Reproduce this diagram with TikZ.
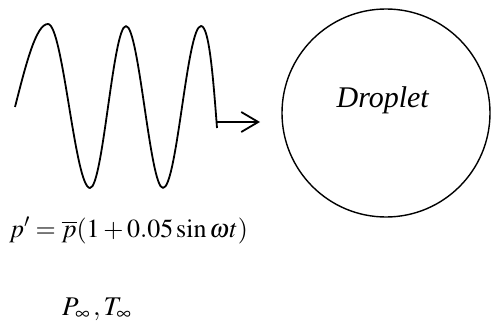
\documentclass[tikz,border=0pt]{standalone}
\usepackage{mathptmx}
\usepackage{fontspec}
\setmainfont{Liberation Serif}
\usetikzlibrary{arrows.meta}
\begin{document}
\begin{tikzpicture}[x=1pt,y=-1pt,
  wave/.style={line width=1.8pt,line join=round},
  drop/.style={circle,draw,line width=1.4pt,minimum size=208pt,inner sep=0pt},
  lbl/.style={inner sep=0pt,anchor=base west}]
\useasboundingbox (0,0) rectangle (492,326);
% wave
\coordinate (w0) at (15,107);
\coordinate (p1) at (48,24);
\coordinate (t1) at (90,188);
\coordinate (p2) at (126,26);
\coordinate (t2) at (163,188);
\coordinate (p3) at (201,26);
\coordinate (wend) at (217,128);
\coordinate (wa) at (217,122);
\coordinate (tip) at (260,122);
\draw[wave] (w0) .. controls (26,64) and (36,24) .. (p1)
  .. controls (63,24) and (75,188) .. (t1)
  .. controls (103,188) and (113,26) .. (p2)
  .. controls (139,26) and (150,188) .. (t2)
  .. controls (177,188) and (187,26) .. (p3)
  .. controls (209,26) and (213,75) .. (wend);
\draw[line width=1.8pt,-{Straight Barb[length=17pt,width=20pt,line width=1.8pt]}] (wa) -- (tip);
% droplet
\node[drop] (d) at (386,113) {};
\node[inner sep=0pt,anchor=base,font=\fontsize{30}{34}\selectfont] (dl) at (383,107) {\textit{Droplet}};
% labels
\node[lbl,font=\fontsize{26}{30}\selectfont] (eq) at (9,237) {$p' = \overline{p}(1+0.05\sin\omega t)$};
\node[lbl,font=\fontsize{27}{31}\selectfont] (pt) at (62,315) {$P_\infty\,,T_\infty$};
\end{tikzpicture}
\end{document}
